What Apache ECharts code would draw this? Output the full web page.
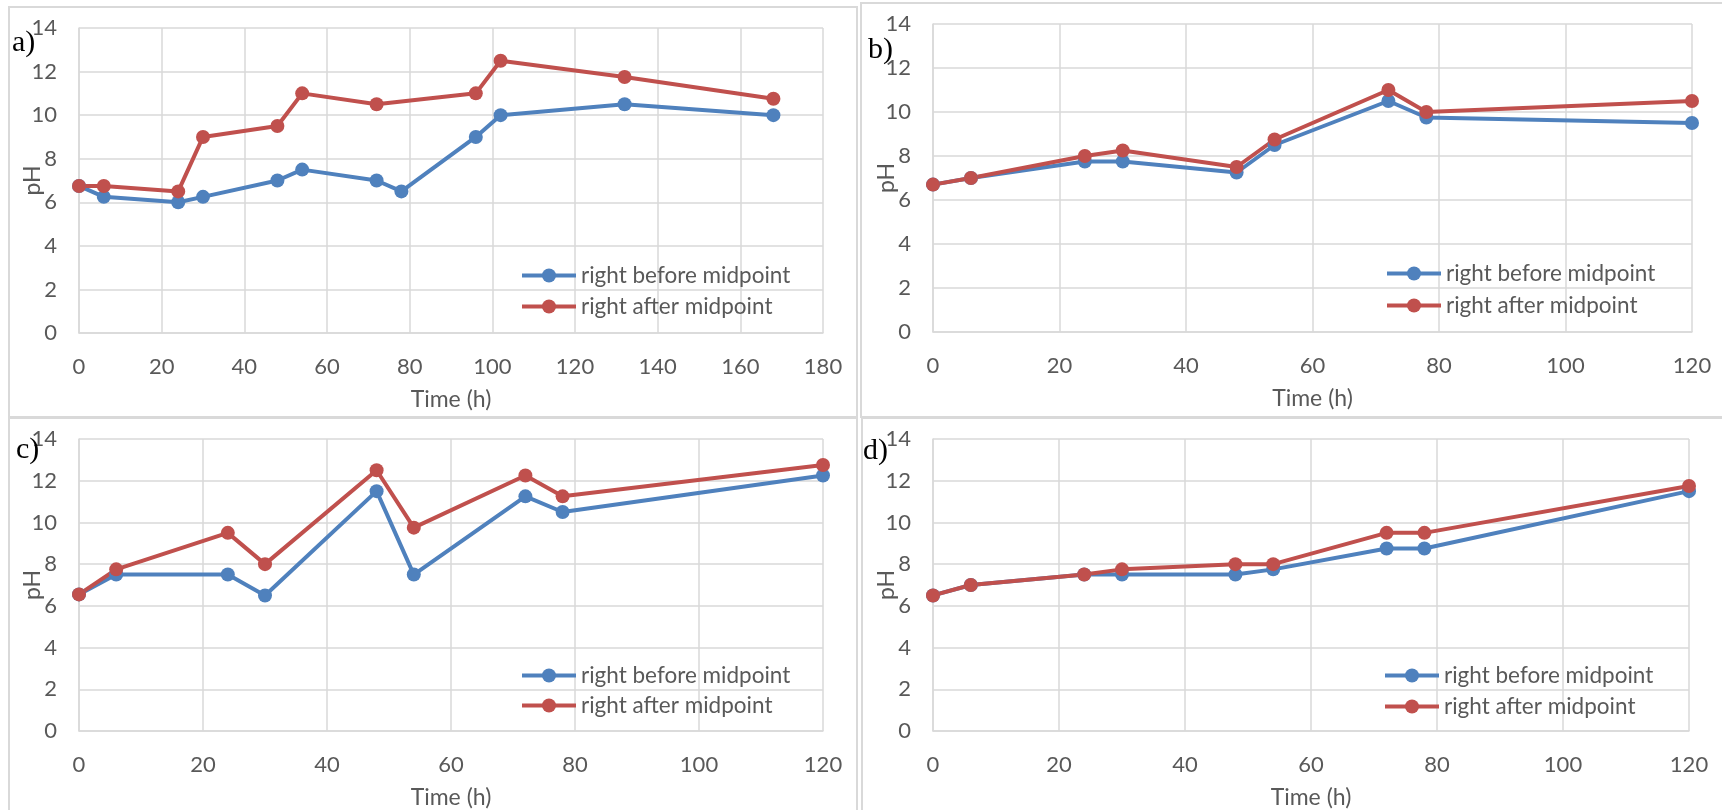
<!DOCTYPE html>
<html>
<head>
<meta charset="utf-8">
<script src="https://cdn.jsdelivr.net/npm/echarts@6/dist/echarts.min.js"></script>
<style>
  html, body { margin: 0; padding: 0; background: #fff; }
  #chart { width: 1722px; height: 810px; }
</style>
</head>
<body>
<div id="chart"></div>
<script>
// Panel a) – sampled over 168 h
const timeBeforeA = [0, 6, 24, 30, 48, 54, 72, 78, 96, 102, 132, 168];
const beforeA     = [6.75, 6.25, 6, 6.25, 7, 7.5, 7, 6.5, 9, 10, 10.5, 10];
const timeAfterA  = [0, 6, 24, 30, 48, 54, 72, 96, 102, 132, 168];
const afterA      = [6.75, 6.75, 6.5, 9, 9.5, 11, 10.5, 11, 12.5, 11.75, 10.75];

// Panels b), c), d) – sampled over 120 h
const timeBCD = [0, 6, 24, 30, 48, 54, 72, 78, 120];
const beforeB = [6.7, 7, 7.75, 7.75, 7.25, 8.5, 10.5, 9.75, 9.5];
const afterB  = [6.7, 7, 8, 8.25, 7.5, 8.75, 11, 10, 10.5];
const beforeC = [6.55, 7.5, 7.5, 6.5, 11.5, 7.5, 11.25, 10.5, 12.25];
const afterC  = [6.55, 7.75, 9.5, 8, 12.5, 9.75, 12.25, 11.25, 12.75];
const beforeD = [6.5, 7, 7.5, 7.5, 7.5, 7.75, 8.75, 8.75, 11.5];
const afterD  = [6.5, 7, 7.5, 7.75, 8, 8, 9.5, 9.5, 11.75];

const panelLabels = ['a)', 'b)', 'c)', 'd)'];
const seriesNames = ['right before midpoint', 'right after midpoint'];
const xAxisName = 'Time (h)';
const yAxisName = 'pH';
const xMax = [180, 120, 120, 120];

const BLUE = '#4F81BD';
const RED = '#C0504D';
const GRID = '#d9d9d9';
const TEXT = '#595959';
const FONT = 'Lato';

const zip = (xs, ys) => xs.map((x, i) => [x, ys[i]]);

const panels = [
  { grid: { left: 79, top: 28, width: 744, height: 305 },
    legend: { left: 520, top: 264, itemGap: 8 },
    label: { x: 12, y: 43 },
    before: zip(timeBeforeA, beforeA), after: zip(timeAfterA, afterA) },
  { grid: { left: 933, top: 24, width: 759, height: 308 },
    legend: { left: 1385, top: 262, itemGap: 9 },
    label: { x: 868, y: 50 },
    before: zip(timeBCD, beforeB), after: zip(timeBCD, afterB) },
  { grid: { left: 79, top: 439, width: 744, height: 292 },
    legend: { left: 520, top: 664, itemGap: 7 },
    label: { x: 16, y: 450 },
    before: zip(timeBCD, beforeC), after: zip(timeBCD, afterC) },
  { grid: { left: 933, top: 439, width: 756, height: 292 },
    legend: { left: 1383, top: 664, itemGap: 8 },
    label: { x: 863, y: 451 },
    before: zip(timeBCD, beforeD), after: zip(timeBCD, afterD) }
];

const chart = echarts.init(document.getElementById('chart'), null, { renderer: 'canvas' });

const option = {
  backgroundColor: '#ffffff',
  animation: false,
  grid: panels.map(p => Object.assign({ outerBoundsMode: 'none', containLabel: false }, p.grid)),
  xAxis: panels.map((p, i) => ({
    type: 'value', gridIndex: i, min: 0, max: xMax[i], interval: 20,
    name: xAxisName, nameLocation: 'middle', nameGap: 55, nameMoveOverlap: false,
    nameTextStyle: { color: TEXT, fontSize: 23, fontFamily: FONT },
    axisLine: { show: true, lineStyle: { color: GRID, width: 1.5 } },
    axisTick: { show: false },
    axisLabel: { color: TEXT, fontSize: 22, fontFamily: FONT, margin: 23 },
    splitLine: { show: true, lineStyle: { color: GRID, width: 1.5 } }
  })),
  yAxis: panels.map((p, i) => ({
    type: 'value', gridIndex: i, min: 0, max: 14, interval: 2,
    name: yAxisName, nameLocation: 'middle', nameGap: 35, nameMoveOverlap: false,
    nameTextStyle: { color: TEXT, fontSize: 23, fontFamily: FONT },
    axisLine: { show: true, lineStyle: { color: GRID, width: 1.5 } },
    axisTick: { show: false },
    axisLabel: { color: TEXT, fontSize: 22, fontFamily: FONT, margin: 22 },
    splitLine: { show: true, lineStyle: { color: GRID, width: 1.5 } }
  })),
  legend: panels.map(p => ({
    orient: 'vertical', left: p.legend.left, top: p.legend.top,
    itemGap: p.legend.itemGap, itemWidth: 54, itemHeight: 17.5, padding: 0,
    data: seriesNames,
    lineStyle: { width: 4 },
    textStyle: { color: TEXT, fontSize: 22.5, fontFamily: FONT, lineHeight: 23 }
  })),
  series: panels.flatMap((p, i) => [
    { name: seriesNames[0], type: 'line', xAxisIndex: i, yAxisIndex: i,
      data: p.before, symbol: 'circle', symbolSize: 14,
      lineStyle: { color: BLUE, width: 4 }, itemStyle: { color: BLUE } },
    { name: seriesNames[1], type: 'line', xAxisIndex: i, yAxisIndex: i,
      data: p.after, symbol: 'circle', symbolSize: 14,
      lineStyle: { color: RED, width: 4 }, itemStyle: { color: RED } }
  ]),
  graphic: [
    // panel frames
    { type: 'rect', shape: { x: 9, y: 7, width: 848, height: 410 }, style: { fill: null, stroke: GRID, lineWidth: 2 }, silent: true, z: -1 },
    { type: 'rect', shape: { x: 861, y: 3, width: 880, height: 414 }, style: { fill: null, stroke: GRID, lineWidth: 2 }, silent: true, z: -1 },
    { type: 'rect', shape: { x: 9, y: 418, width: 848, height: 410 }, style: { fill: null, stroke: GRID, lineWidth: 2 }, silent: true, z: -1 },
    { type: 'rect', shape: { x: 862, y: 418, width: 880, height: 410 }, style: { fill: null, stroke: GRID, lineWidth: 2 }, silent: true, z: -1 }
  ].concat(panels.map((p, i) => ({
    type: 'text', x: p.label.x, y: p.label.y, z: 10,
    style: { text: panelLabels[i], fill: '#000', font: '30px "Liberation Serif"', verticalAlign: 'middle', align: 'left' }
  })))
};

chart.setOption(option);
</script>
</body>
</html>
